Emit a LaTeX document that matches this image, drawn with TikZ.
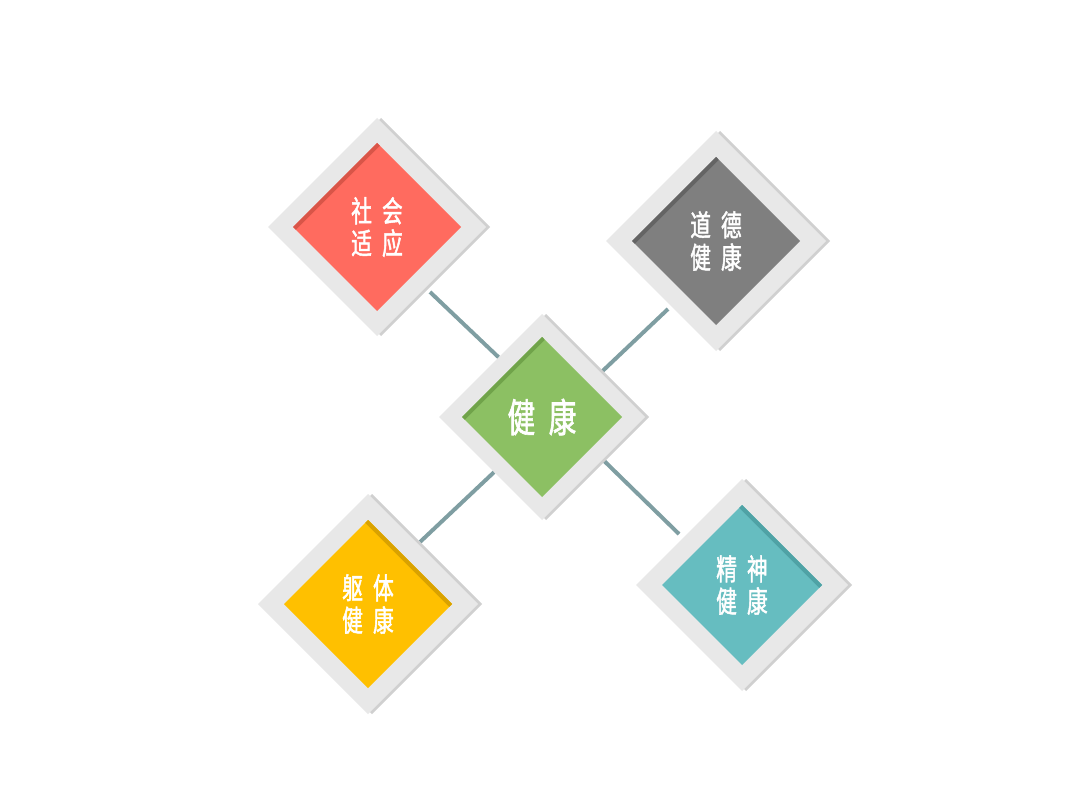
\documentclass[tikz,border=0pt]{standalone}
\usepackage{fontspec}
\newfontfamily\cjk[FakeStretch=0.7, WordSpace=2.2, FakeBold=1.6]{Noto Sans CJK SC}
\usetikzlibrary{shapes.geometric,backgrounds}
\definecolor{framegray}{HTML}{E8E8E8}
\definecolor{shadegray}{HTML}{D0D0D0}
\definecolor{linkgray}{HTML}{7F9EA2}
\definecolor{redtile}{HTML}{FF6B5F}
\definecolor{reddark}{HTML}{D95548}
\definecolor{graytile}{HTML}{7F7F7F}
\definecolor{graydark}{HTML}{646464}
\definecolor{greentile}{HTML}{8CC063}
\definecolor{greendark}{HTML}{70A34A}
\definecolor{yellowtile}{HTML}{FFC000}
\definecolor{yellowdark}{HTML}{D9A200}
\definecolor{tealtile}{HTML}{66BDC0}
\definecolor{tealdark}{HTML}{4FA2A5}
\begin{document}
\begin{tikzpicture}[
        outerbox/.style={diamond, fill=framegray, inner sep=0pt, outer sep=0pt, minimum size=#1},
        backshade/.style={diamond, fill=shadegray, inner sep=0pt, outer sep=0pt, minimum size=#1, xshift=1mm},
        tilebox/.style={diamond, inner sep=0pt, outer sep=0pt, minimum size=#1, text=white, align=center,
            font=\cjk\fontsize{21pt}{23pt}\selectfont},
        edgestrip/.style={line width=2mm},
        linkline/.style={linkgray, line width=2.8pt}]
        \useasboundingbox (0, 0) rectangle (27, 20.25);

        % 社会适应
        \node[backshade=5.45cm] at (9.425, 14.575) {};
        \node[outerbox=5.45cm] (redframe) at (9.425, 14.575) {};
        \node[tilebox=4.2cm, fill=redtile] (red) at (9.425, 14.575) {社 会\\适 应};
        \begin{scope}
            \clip (red.north) -- (red.east) -- (red.south) -- (red.west) -- cycle;
            \draw[edgestrip, reddark] (red.west) -- (red.north);
        \end{scope}

        % 道德健康
        \node[backshade=5.5cm] at (17.9, 14.225) {};
        \node[outerbox=5.5cm] (grayframe) at (17.9, 14.225) {};
        \node[tilebox=4.2cm, fill=graytile] (gray) at (17.9, 14.225) {道 德\\健 康};
        \begin{scope}
            \clip (gray.north) -- (gray.east) -- (gray.south) -- (gray.west) -- cycle;
            \draw[edgestrip, graydark] (gray.west) -- (gray.north);
        \end{scope}

        % 健康
        \node[backshade=5.15cm] at (13.55, 9.825) {};
        \node[outerbox=5.15cm] (greenframe) at (13.55, 9.825) {};
        \node[tilebox=4cm, fill=greentile, font=\cjk\fontsize{28pt}{32pt}\selectfont] (green) at (13.55, 9.825) {健 康};
        \begin{scope}
            \clip (green.north) -- (green.east) -- (green.south) -- (green.west) -- cycle;
            \draw[edgestrip, greendark] (green.west) -- (green.north);
        \end{scope}

        % 躯体健康
        \node[backshade=5.5cm] at (9.2, 5.15) {};
        \node[outerbox=5.5cm] (yellowframe) at (9.2, 5.15) {};
        \node[tilebox=4.2cm, fill=yellowtile] (yellow) at (9.2, 5.15) {躯 体\\健 康};
        \begin{scope}
            \clip (yellow.north) -- (yellow.east) -- (yellow.south) -- (yellow.west) -- cycle;
            \draw[edgestrip, yellowdark] (yellow.north) -- (yellow.east);
        \end{scope}

        % 精神健康
        \node[backshade=5.3cm] at (18.55, 5.625) {};
        \node[outerbox=5.3cm] (tealframe) at (18.55, 5.625) {};
        \node[tilebox=4cm, fill=tealtile] (teal) at (18.55, 5.625) {精 神\\健 康};
        \begin{scope}
            \clip (teal.north) -- (teal.east) -- (teal.south) -- (teal.west) -- cycle;
            \draw[edgestrip, tealdark] (teal.north) -- (teal.east);
        \end{scope}

        % links, behind the tiles
        \coordinate (redend) at (10.75, 12.95);
        \coordinate (grayend) at (16.7, 12.525);
        \coordinate (yellowend) at (10.5, 6.7);
        \coordinate (tealend) at (16.975, 6.9);
        \begin{scope}[on background layer]
            \fill[white] (0, 0) rectangle (27, 20.25);
            \draw[linkline] (greenframe.126) -- (redend);
            \draw[linkline] (greenframe.37) -- (grayend);
            \draw[linkline] (greenframe.229) -- (yellowend);
            \draw[linkline] (greenframe.325) -- (tealend);
        \end{scope}

    \end{tikzpicture}
\end{document}
